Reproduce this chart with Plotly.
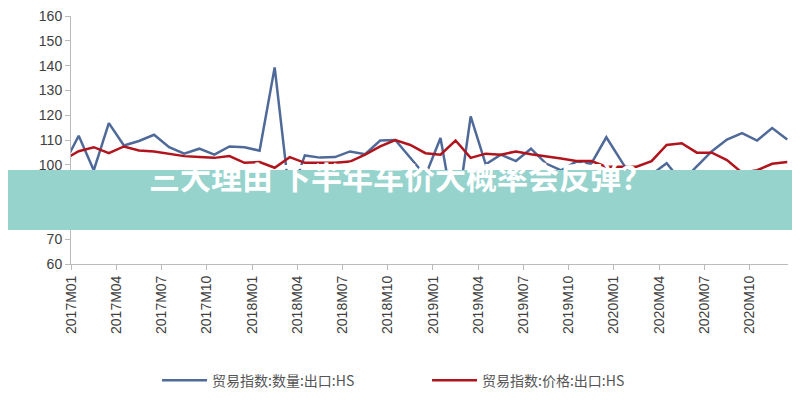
import plotly.graph_objects as go

labels = [f"{y}M{m:02d}" for y in range(2017, 2021) for m in (1, 4, 7, 10)]
qty = [100, 111.7, 97.8, 116.8, 107.8, 109.6, 112.1, 107.1, 104.5, 106.5, 104.1, 107.4, 107.1, 105.7,
       139.3, 86.5, 103.8, 102.9, 103.1, 105.4, 104.3, 109.8, 110, 103, 95.6, 110.8, 76.6, 119.5,
       100.2, 104.1, 101.5, 106.5, 100.5, 97.8, 101.3, 100.5, 111.1, 101.5, 92, 96.1, 100.6, 93.2,
       99.2, 105.5, 110.2, 112.8, 109.8, 114.8, 110.2]
price = [102, 105.5, 107.1, 104.7, 107.4, 105.8, 105.4, 104.5, 103.5, 103.1, 102.8, 103.5, 100.8, 101.1,
         98.8, 103.1, 100.8, 100.8, 100.8, 101.3, 104.1, 107.4, 110, 108, 104.7, 104.1, 109.8, 102.8,
         104.5, 104.1, 105.4, 104.3, 103.5, 102.5, 101.5, 101.5, 99.2, 99.2, 99.2, 101.5, 108, 108.7,
         104.9, 104.9, 101.9, 96.8, 97.8, 100.4, 101.1]
idx = list(range(len(qty)))
tickpos = [0.5 + 3 * j for j in range(len(labels))]

fig = go.Figure()
fig.add_trace(go.Scatter(x=idx, y=qty, mode="lines", name="贸易指数:数量:出口:HS",
                         line=dict(color="#4f6a98", width=2.5)))
fig.add_trace(go.Scatter(x=idx, y=price, mode="lines", name="贸易指数:价格:出口:HS",
                         line=dict(color="#b0141c", width=2.5)))
fig.add_shape(type="rect", xref="paper", yref="paper", x0=-0.2, x1=1.2, y0=0.137, y1=0.379,
              fillcolor="rgb(150,211,205)", line_width=0, layer="above")
fig.add_annotation(xref="paper", yref="paper", x=0.46, y=0.258, showarrow=False,
                   text="<b>三大理由 下半年车价大概率会反弹？</b>",
                   font=dict(size=31, color="white", family="Noto Sans CJK SC", weight="bold"))
fig.update_layout(width=800, height=400, margin=dict(l=63, r=20, t=8, b=144, autoexpand=False),
                  plot_bgcolor="white", paper_bgcolor="white",
                  font=dict(family="Liberation Sans", color="#404040", size=14),
                  legend=dict(orientation="h", x=0.12, xanchor="left", y=-0.47, yanchor="middle",
                              font=dict(size=14, family="Noto Sans CJK SC", color="#555"),
                              itemwidth=45, entrywidth=210))
fig.update_xaxes(tickvals=tickpos, ticktext=labels, tickangle=-90, automargin=False,
                 showline=True, linecolor="#bbb", ticks="outside", tickcolor="#bbb",
                 range=[0.49, 48.05], showgrid=False, zeroline=False, ticklabeloverflow="allow")
fig.update_yaxes(range=[60, 160.01], tickvals=list(range(60, 161, 10)), showline=True,
                 linecolor="#bbb", ticks="outside", ticklabeloverflow="allow",
                 tickcolor="#bbb", showgrid=False, zeroline=False, automargin=False)
fig.write_html("out.html")
